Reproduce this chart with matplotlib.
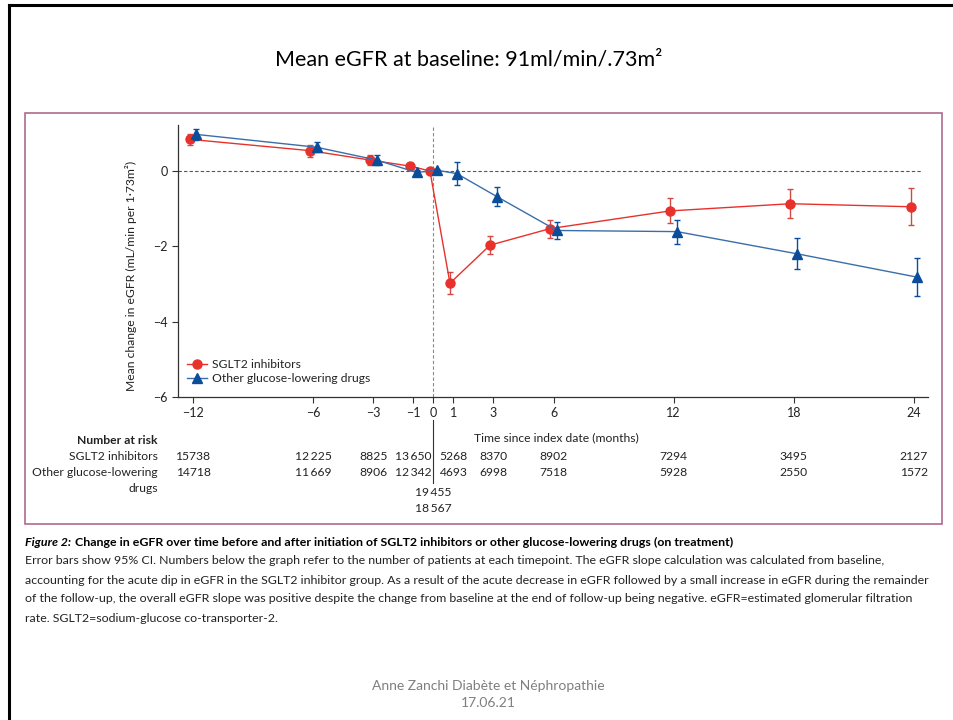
import matplotlib
matplotlib.use('Agg')
import matplotlib.pyplot as plt
from matplotlib.lines import Line2D
from matplotlib.patches import Rectangle

# data
months = [-12, -6, -3, -1, 0, 1, 3, 6, 12, 18, 24]
sglt2_mean = [0.84, 0.54, 0.29, 0.13, 0.0, -2.98, -1.97, -1.53, -1.06, -0.87, -0.95]
sglt2_ci = [0.15, 0.16, 0.14, 0.07, 0.03, 0.29, 0.24, 0.24, 0.33, 0.39, 0.49]
other_mean = [0.97, 0.63, 0.29, -0.04, 0.02, -0.07, -0.68, -1.58, -1.61, -2.20, -2.82]
other_ci = [0.14, 0.13, 0.14, 0.06, 0.03, 0.31, 0.25, 0.22, 0.32, 0.41, 0.51]

# number at risk (index-date values are printed below the table)
risk_sglt2 = ['15738', '12\u2009225', '8825', '13\u2009650', '19\u2009455', '5268',
              '8370', '8902', '7294', '3495', '2127']
risk_other = ['14718', '11\u2009669', '8906', '12\u2009342', '18\u2009567', '4693',
              '6998', '7518', '5928', '2550', '1572']

W, H = 954, 720


def fx(x):
    return x / W


def fy(y):
    return 1 - y / H


plt.rcParams['font.family'] = ['Lato', 'DejaVu Sans']
plt.rcParams['font.size'] = 8

RED = '#e8312b'
RED_BAR = '#cf4a44'
BLUE = '#0a4d9b'
BLUE_LINE = '#3b6ea8'
TXT = '#222222'

fig = plt.figure(figsize=(W / 100, H / 100), dpi=100)

# slide border (left and top)
fig.add_artist(Line2D([fx(9), fx(9)], [fy(5), 0], color='black', lw=2.2,
                      transform=fig.transFigure))
fig.add_artist(Line2D([fx(9), 1], [fy(5), fy(5)], color='black', lw=2.2,
                      transform=fig.transFigure))

# slide title
fig.text(fx(469), fy(60), 'Mean eGFR at baseline: 91ml/min/.73m\u00b2',
         ha='center', va='center', fontsize=15.5, color='black')

# pink frame round the figure
fig.add_artist(Rectangle((fx(25), fy(524)), (942 - 25) / W, (524 - 113) / H,
                         transform=fig.transFigure, fill=False,
                         edgecolor='#b06a8e', lw=1.2))

ax = fig.add_axes([fx(178), fy(397), (928 - 178) / W, (397 - 125) / H])
ax.set_xlim(-12.75, 24.7)
ax.set_ylim(-6, 1.22)
for s in ['top', 'right']:
    ax.spines[s].set_visible(False)
for s in ['left', 'bottom']:
    ax.spines[s].set_color('#333333')
    ax.spines[s].set_linewidth(0.9)

ax.set_xticks(months)
ax.set_yticks([0, -2, -4, -6])
ax.tick_params(direction='out', length=4, width=0.8, colors='#333333',
               labelcolor=TXT, labelsize=9)

# reference lines
ax.axvline(0, color='#8a8a8a', ls=(0, (3, 2)), lw=0.8, zorder=1)
ax.plot([ax.get_xlim()[0], months[-1] + 0.35], [0, 0], color='#555555',
        ls=(0, (3, 2)), lw=0.8, zorder=1)

dodge = 0.17
xr = [m - dodge for m in months]
xb = [m + dodge for m in months]

ax.errorbar(xr, sglt2_mean, yerr=sglt2_ci, fmt='none', ecolor=RED_BAR,
            elinewidth=1, capsize=2.5, capthick=1, zorder=2)
ax.plot(xr, sglt2_mean, color=RED, lw=1, marker='o', markersize=6.5,
        label='SGLT2 inhibitors', zorder=3)
ax.errorbar(xb, other_mean, yerr=other_ci, fmt='none', ecolor=BLUE,
            elinewidth=1, capsize=2.5, capthick=1, zorder=4)
ax.plot(xb, other_mean, color=BLUE_LINE, lw=1, marker='^', markersize=7,
        markerfacecolor=BLUE, markeredgecolor=BLUE,
        label='Other glucose-lowering drugs', zorder=5)

leg = ax.legend(loc='lower left', bbox_to_anchor=(0.005, 0.03), frameon=False,
                handlelength=1.7, handletextpad=0.4, labelspacing=0.25,
                fontsize=8.7, borderaxespad=0)
for t in leg.get_texts():
    t.set_color(TXT)

ax.set_ylabel('Mean change in eGFR (mL/min per 1\u00b773m\u00b2)', fontsize=8.7,
              color=TXT)
ax.yaxis.set_label_coords(-0.055, 0.445)
ax.set_xlabel('Time since index date (months)', fontsize=8.7, color=TXT)
ax.xaxis.set_label_coords((556 - 178) / 750, (397 - 432) / 272)

# number at risk table
tr = ax.get_xaxis_transform()
ax.plot([0, 0], [(397 - 420) / 272, (397 - 483) / 272], color='#333333',
        lw=0.8, transform=tr, clip_on=False)
row1 = (397 - 456) / 272
row2 = (397 - 472) / 272
row3 = (397 - 492) / 272
row4 = (397 - 508) / 272
for m, a, b in zip(months, risk_sglt2, risk_other):
    if m == 0:
        ax.text(m, row3, a, transform=tr, ha='center', va='center',
                fontsize=8.7, color=TXT)
        ax.text(m, row4, b, transform=tr, ha='center', va='center',
                fontsize=8.7, color=TXT)
    else:
        ax.text(m, row1, a, transform=tr, ha='center', va='center',
                fontsize=8.7, color=TXT)
        ax.text(m, row2, b, transform=tr, ha='center', va='center',
                fontsize=8.7, color=TXT)

fig.text(fx(158), fy(440), 'Number at risk', ha='right', va='center',
         fontsize=8.7, fontweight='bold', color=TXT)
fig.text(fx(158), fy(456), 'SGLT2 inhibitors', ha='right', va='center',
         fontsize=8.7, color=TXT)
fig.text(fx(158), fy(472), 'Other glucose-lowering', ha='right', va='center',
         fontsize=8.7, color=TXT)
fig.text(fx(158), fy(489), 'drugs', ha='right', va='center',
         fontsize=8.7, color=TXT)

# caption
fs_cap = 8.9
t1 = fig.text(fx(25), fy(542), 'Figure 2:', ha='left', va='center',
              fontsize=fs_cap, fontweight='bold', fontstyle='italic', color='black')
renderer = fig.canvas.get_renderer()
bb = t1.get_window_extent(renderer)
fig.text(bb.x1 / W + 0.004, fy(542),
         'Change in eGFR over time before and after initiation of SGLT2 inhibitors '
         'or other glucose-lowering drugs (on treatment)',
         ha='left', va='center', fontsize=fs_cap, fontweight='bold', color='black')
cap_lines = [
    'Error bars show 95% CI. Numbers below the graph refer to the number of patients at each '
    'timepoint. The eGFR slope calculation was calculated from baseline,',
    'accounting for the acute dip in eGFR in the SGLT2 inhibitor group. As a result of the acute '
    'decrease in eGFR followed by a small increase in eGFR during the remainder',
    'of the follow-up, the overall eGFR slope was positive despite the change from baseline at the '
    'end of follow-up being negative. eGFR=estimated glomerular filtration',
    'rate. SGLT2=sodium-glucose co-transporter-2.',
]
for i, line in enumerate(cap_lines):
    fig.text(fx(25), fy(561 + i * 19), line, ha='left', va='center',
             fontsize=fs_cap, color=TXT)

# footer
fig.text(fx(488), fy(686), 'Anne Zanchi Diab\u00e8te et N\u00e9phropathie',
         ha='center', va='center', fontsize=10, color='#7f7f7f')
fig.text(fx(488), fy(703), '17.06.21', ha='center', va='center',
         fontsize=10, color='#7f7f7f')

fig.savefig('out.png', dpi=100)
